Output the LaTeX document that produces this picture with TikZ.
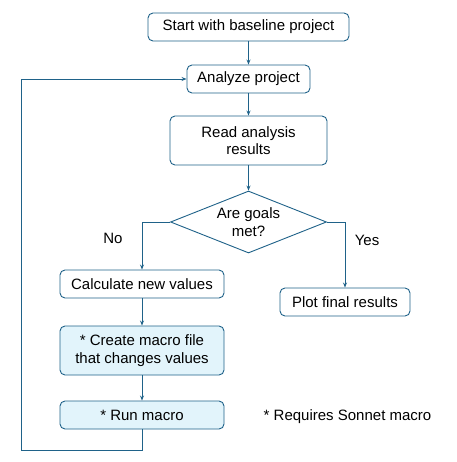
\documentclass[tikz,border=0pt]{standalone}
\usepackage{fontspec}
\setmainfont{Liberation Sans}
\usetikzlibrary{shapes.geometric,arrows.meta}
\definecolor{ln}{HTML}{1F6289}
\definecolor{fl}{HTML}{E2F4FB}
\begin{document}
\begin{tikzpicture}[x=1pt,y=-1pt,
  box/.style={draw=ln,line width=0.9pt,rounded corners=5pt,fill=white,inner sep=0pt,font=\fontsize{15}{17.5}\selectfont,align=center},
  hbox/.style={box,fill=fl},
  conn/.style={draw=ln,line width=0.9pt,-{Stealth[length=5pt,width=4pt]}},
  plain/.style={draw=ln,line width=0.9pt},
  lbl/.style={font=\fontsize{15}{17.5}\selectfont}]
\useasboundingbox (0,0) rectangle (456,462);
\node[box,minimum width=201pt,minimum height=28pt] (start) at (248.5,27) {Start with baseline project};
\node[box,minimum width=123pt,minimum height=28pt] (analyze) at (248.5,79) {Analyze project};
\node[box,minimum width=157pt,minimum height=49pt] (read) at (248.5,140.5) {Read analysis\\results};
\node[diamond,draw=ln,line width=0.9pt,fill=white,minimum width=156pt,minimum height=62pt,inner sep=0pt,aspect=2.5,font=\fontsize{15}{17.5}\selectfont,align=center] (goal) at (248.5,222) {Are goals\\met?};
\node[box,minimum width=164pt,minimum height=28pt] (calc) at (142,284) {Calculate new values};
\node[box,minimum width=130pt,minimum height=28pt] (plot) at (345,302) {Plot final results};
\node[hbox,minimum width=164pt,minimum height=49pt] (create) at (142,350.5) {* Create macro file\\that changes values};
\node[hbox,minimum width=164pt,minimum height=28pt] (run) at (142,415) {* Run macro};
\node[lbl] (note) at (347.5,417) {* Requires Sonnet macro};
\node[lbl] (no) at (113,238) {No};
\node[lbl] (yes) at (367,240) {Yes};
\coordinate (c1) at (142,450);
\coordinate (c2) at (21,450);
\coordinate (c3) at (21,79);
\draw[conn] (start) -- (analyze);
\draw[conn] (analyze) -- (read);
\draw[conn] (read) -- (goal);
\draw[conn] (goal.west) -| (calc.north);
\draw[conn] (goal.east) -| (plot.north);
\draw[conn] (calc) -- (create);
\draw[conn] (create) -- (run);
\draw[plain] (run.south) -- (c1) -- (c2) -- (c3);
\draw[conn] (c3) -- (analyze.west);
\end{tikzpicture}
\end{document}
